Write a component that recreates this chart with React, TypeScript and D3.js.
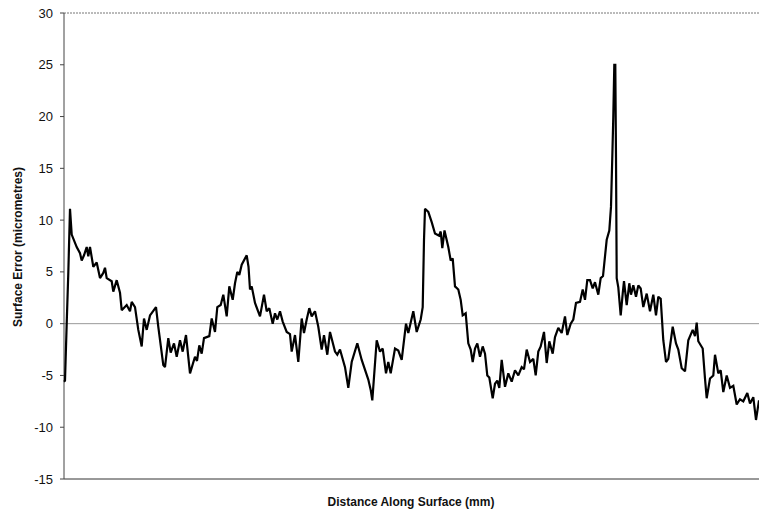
import React from "react";
import * as d3 from "d3";

const yTicks = [-15, -10, -5, 0, 5, 10, 15, 20, 25, 30];

// distance along surface (arbitrary units, 0–695) — 10 per line
const distance = [
  0, 1, 2.7, 4.3, 6, 7.7, 12.7, 16, 17.7, 20,
  22.7, 24.3, 26, 29.3, 32.7, 36, 39.3, 41, 42.7, 47.7,
  49.3, 52.7, 56, 57.7, 62.7, 66, 67.7, 71, 74.3, 77.7,
  80, 82.7, 86, 92, 94.3, 99.3, 101, 104.3, 106.7, 110,
  112.7, 116, 118.7, 122, 126, 131, 133, 135.3, 137.7, 140,
  145.3, 147.7, 151, 153.3, 156.7, 159.3, 162.7, 165.3, 168.7, 171,
  173.3, 175.3, 177.7, 182.7, 184.5, 186, 187.7, 191, 196, 200,
  202.7, 205.3, 208.7, 211, 213.3, 216, 218.7, 222.7, 226, 227.7,
  231, 234.3, 237.7, 240, 242.7, 245.3, 247.7, 251, 254.3, 257.7,
  260, 263.3, 266, 271, 273.3, 276, 281, 284.3, 287.7, 293.3,
  297.7, 304.3, 306.7, 308.3, 312.7, 316, 318.7, 322, 324.3, 326.7,
  331, 334.3, 337.7, 342, 344.3, 349.3, 352.7, 356.7, 358.7, 360,
  361, 364.3, 367.7, 371, 375, 376.7, 378.3, 380.5, 384.3, 386.7,
  388.7, 391, 394.3, 396.7, 398.7, 401.7, 404.3, 406.7, 408.7, 411,
  413.3, 416, 418.7, 421, 423.3, 425.3, 428.7, 431, 433.3, 435.3,
  437.7, 441, 444.3, 447.7, 451, 454.3, 457.7, 460, 462.7, 466,
  469.3, 471.7, 474.3, 476.7, 480, 482.7, 485.3, 488.7, 491, 494.3,
  497.7, 501, 503.3, 506.7, 509.3, 512, 516, 518.7, 521, 523.3,
  526, 528.7, 531, 534.3, 536.7, 539, 541, 542.7, 545.3, 547,
  548.3, 549.3, 550.3, 551.3, 552, 552.7, 554.3, 556.7, 558.7, 560,
  562.7, 565.3, 567, 569.3, 572, 574.3, 576.7, 579.3, 582.7, 586,
  589.3, 592, 594.3, 596.7, 599.3, 602, 604.3, 608.7, 612, 614.3,
  617.7, 621, 624.3, 628.7, 631, 632.7, 634.3, 638.7, 641, 642.7,
  646, 649.3, 651, 654.3, 656.7, 659.3, 662.7, 666, 669.3, 672.7,
  676, 679.3, 683.3, 686, 689.3, 692, 695
];

// surface error (micrometres) — 10 per line, aligned with distance
const surfaceError = [
  -5.6, -5.5, 0, 4.9, 11.1, 8.6, 7.4, 6.8, 6.1, 6.6,
  7.4, 6.5, 7.4, 5.5, 5.9, 4.4, 4.9, 5.4, 4.4, 4.1,
  3.1, 4.2, 3.0, 1.3, 1.8, 1.2, 2.1, 1.6, -0.6, -2.2,
  0.5, -0.6, 0.8, 1.6, -0.3, -4.0, -4.2, -1.4, -2.8, -1.9,
  -3.2, -1.6, -2.7, -1.1, -4.8, -3.2, -3.6, -2.1, -2.9, -1.4,
  -1.2, 0.5, -0.8, 1.6, 1.8, 2.8, 0.7, 3.6, 2.3, 3.9,
  5.0, 4.7, 5.7, 6.6, 5.5, 3.3, 3.6, 2.0, 0.7, 2.8,
  1.2, 1.5, 0.0, 1.0, 0.4, 1.2, 0.2, -0.8, -1.0, -2.7,
  -1.1, -3.7, 0.5, -0.9, 0.4, 1.5, 0.7, 1.2, -0.3, -2.5,
  -1.1, -3.0, -0.8, -2.7, -3.0, -2.5, -4.2, -6.2, -3.7, -1.9,
  -3.5, -5.4, -6.4, -7.4, -1.6, -2.7, -2.4, -4.8, -3.7, -4.8,
  -2.4, -2.6, -3.5, 0.0, -0.9, 1.2, -0.8, 0.4, 1.6, 8.1,
  11.1, 10.8, 9.8, 8.7, 8.5, 8.9, 7.3, 9.0, 7.4, 6.1,
  6.3, 3.6, 3.3, 2.3, 0.8, 1.0, -1.9, -2.5, -3.7, -2.4,
  -1.9, -3.2, -2.2, -2.9, -5.0, -5.2, -7.2, -5.8, -5.5, -6.2,
  -3.5, -6.1, -4.8, -5.6, -4.5, -5.0, -4.2, -4.4, -2.5, -3.7,
  -3.4, -5.0, -2.7, -2.2, -0.8, -3.8, -1.7, -2.9, -1.3, -0.4,
  -0.9, 0.7, -1.1, 0.0, 0.4, 2.0, 2.1, 3.3, 2.3, 4.2,
  4.2, 3.4, 4.0, 2.8, 4.4, 4.6, 6.5, 8.1, 9.0, 11.3,
  16.1, 20.0, 25.0, 25.0, 16.1, 4.4, 3.5, 0.8, 2.9, 4.1,
  1.8, 3.9, 2.8, 3.7, 2.6, 3.7, 3.4, 1.6, 2.9, 1.2,
  2.8, 0.8, 2.6, 2.4, -1.6, -3.7, -3.4, -0.3, -1.9, -2.5,
  -4.3, -4.6, -1.6, -0.6, -1.2, 0.1, -1.7, -2.4, -5.3, -7.2,
  -5.3, -5.0, -3.0, -4.8, -4.5, -6.6, -5.0, -6.2, -6.0, -7.8,
  -7.3, -7.5, -6.7, -7.7, -7.1, -9.3, -7.4
];

export default function App() {
  const W = 759, H = 514;
  const left = 64, right = 759, top = 13, bottom = 479;
  const x = d3.scaleLinear().domain([0, 695]).range([left, right]);
  const y = d3.scaleLinear().domain([-15, 30]).range([bottom, top]);
  const n = Math.min(distance.length, surfaceError.length);
  const pts = distance.slice(0, n).map((d, i) => [d, surfaceError[i]] as [number, number]);
  const line = d3.line<[number, number]>().x(d => x(d[0])).y(d => y(d[1]));
  const font = "Arial, 'Liberation Sans', sans-serif";
  return (
    <svg width={W} height={H} style={{ position: "absolute", left: 0, top: 0, background: "#fff" }}>
      <line x1={left} x2={right} y1={top} y2={top} stroke="#777" strokeWidth={1} strokeDasharray="2,1" />
      <line x1={left} x2={right} y1={y(0)} y2={y(0)} stroke="#999" strokeWidth={1} />
      <line x1={left} x2={right} y1={bottom} y2={bottom} stroke="#333" strokeWidth={1} />
      <line x1={left} x2={left} y1={top} y2={bottom} stroke="#444" strokeWidth={1} />
      {yTicks.map(t => (
        <g key={t}>
          <line x1={left - 4} x2={left} y1={y(t)} y2={y(t)} stroke="#444" strokeWidth={1} />
          <text x={53} y={y(t)} dy="0.35em" textAnchor="end" fontFamily={font} fontSize={13} fill="#111">
            {t}
          </text>
        </g>
      ))}
      <path d={line(pts) || ""} fill="none" stroke="#000" strokeWidth={2.2} strokeLinejoin="miter" strokeMiterlimit={2} />
      <text
        transform={`translate(22, 247) rotate(-90)`}
        textAnchor="middle"
        fontFamily={font}
        fontWeight="bold"
        fontSize={12}
        fill="#111"
      >
        Surface Error (micrometres)
      </text>
      <text x={411} y={506} textAnchor="middle" fontFamily={font} fontWeight="bold" fontSize={12} fill="#111">
        Distance Along Surface (mm)
      </text>
    </svg>
  );
}
